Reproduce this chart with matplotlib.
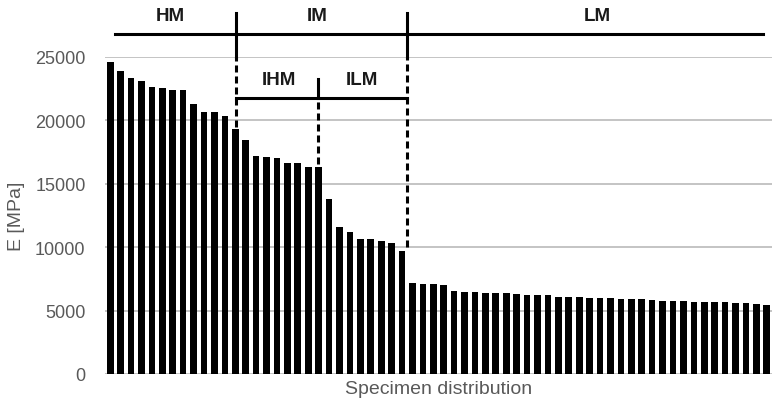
import matplotlib.pyplot as plt

# E modulus per specimen, sorted descending
e_values = [24610, 23920, 23370, 23080, 22630, 22550, 22400, 22400, 21260, 20680,
            20680, 20370, 19350, 18470, 17180, 17100, 17030, 16630, 16630, 16340,
            16340, 13840, 11580, 11190, 10660, 10660, 10500, 10320, 9690, 7180,
            7100, 7100, 7030, 6580, 6500, 6500, 6420, 6420, 6420, 6290,
            6210, 6210, 6210, 6100, 6100, 6100, 6030, 6030, 5970, 5900,
            5900, 5900, 5820, 5740, 5740, 5740, 5660, 5660, 5660, 5660,
            5580, 5580, 5500, 5420]
y_ticks = [0, 5000, 10000, 15000, 20000, 25000]

# group borders (specimen index) and labels
hm_im = 12.05
ihm_ilm = 19.95
im_lm = 28.45
groups_top = [('HM', 5.8), ('IM', 19.9), ('LM', 46.7)]
groups_sub = [('IHM', 16.2), ('ILM', 24.2)]

plt.rcParams['font.family'] = ['Liberation Sans', 'DejaVu Sans']

fig = plt.figure(figsize=(7.73, 4.02), dpi=100)
ax = fig.add_axes([105 / 773, 1 - 375 / 402, 667 / 773, 317 / 402])

x = list(range(len(e_values)))
ax.bar(x, e_values, width=0.64, color='black', zorder=3)

ax.set_xlim(-0.5, len(e_values) - 0.5)
ax.set_ylim(0, 25000)
ax.set_yticks(y_ticks)
ax.set_xticks([])
ax.grid(axis='y', color='#bfbfbf', linewidth=1.3, zorder=0)
for s in ax.spines.values():
    s.set_visible(False)
ax.tick_params(axis='y', length=0, pad=14, labelsize=13, labelcolor='#595959')
ax.set_ylabel('E [MPa]', fontsize=14, color='#595959', labelpad=7)
ax.set_xlabel('Specimen distribution', fontsize=14, color='#595959', labelpad=4)

lw = 2.2
dash = (0, (2.3, 1.3))
kw = dict(color='black', lw=lw, clip_on=False, zorder=5)

# top bracket
y_top = 26850
ax.plot([0.45, 62.6], [y_top, y_top], **kw)
for xb in [hm_im, im_lm]:
    ax.plot([xb, xb], [25000, 28500], **kw)
ax.plot([hm_im, hm_im], [19500, 25000], linestyle=dash, **kw)
ax.plot([im_lm, im_lm], [10000, 25000], linestyle=dash, **kw)

# sub bracket inside IM
y_sub = 21800
ax.plot([hm_im, im_lm], [y_sub, y_sub], **kw)
ax.plot([ihm_ilm, ihm_ilm], [y_sub, 23300], **kw)
ax.plot([ihm_ilm, ihm_ilm], [16600, y_sub], linestyle=dash, **kw)

for name, xp in groups_top:
    ax.text(xp, 28300, name, ha='center', va='center', fontsize=13.5,
            fontweight='bold', color='#1a1a1a')
for name, xp in groups_sub:
    ax.text(xp, 23250, name, ha='center', va='center', fontsize=13.5,
            fontweight='bold', color='#1a1a1a')

plt.savefig('out.png', dpi=100)
